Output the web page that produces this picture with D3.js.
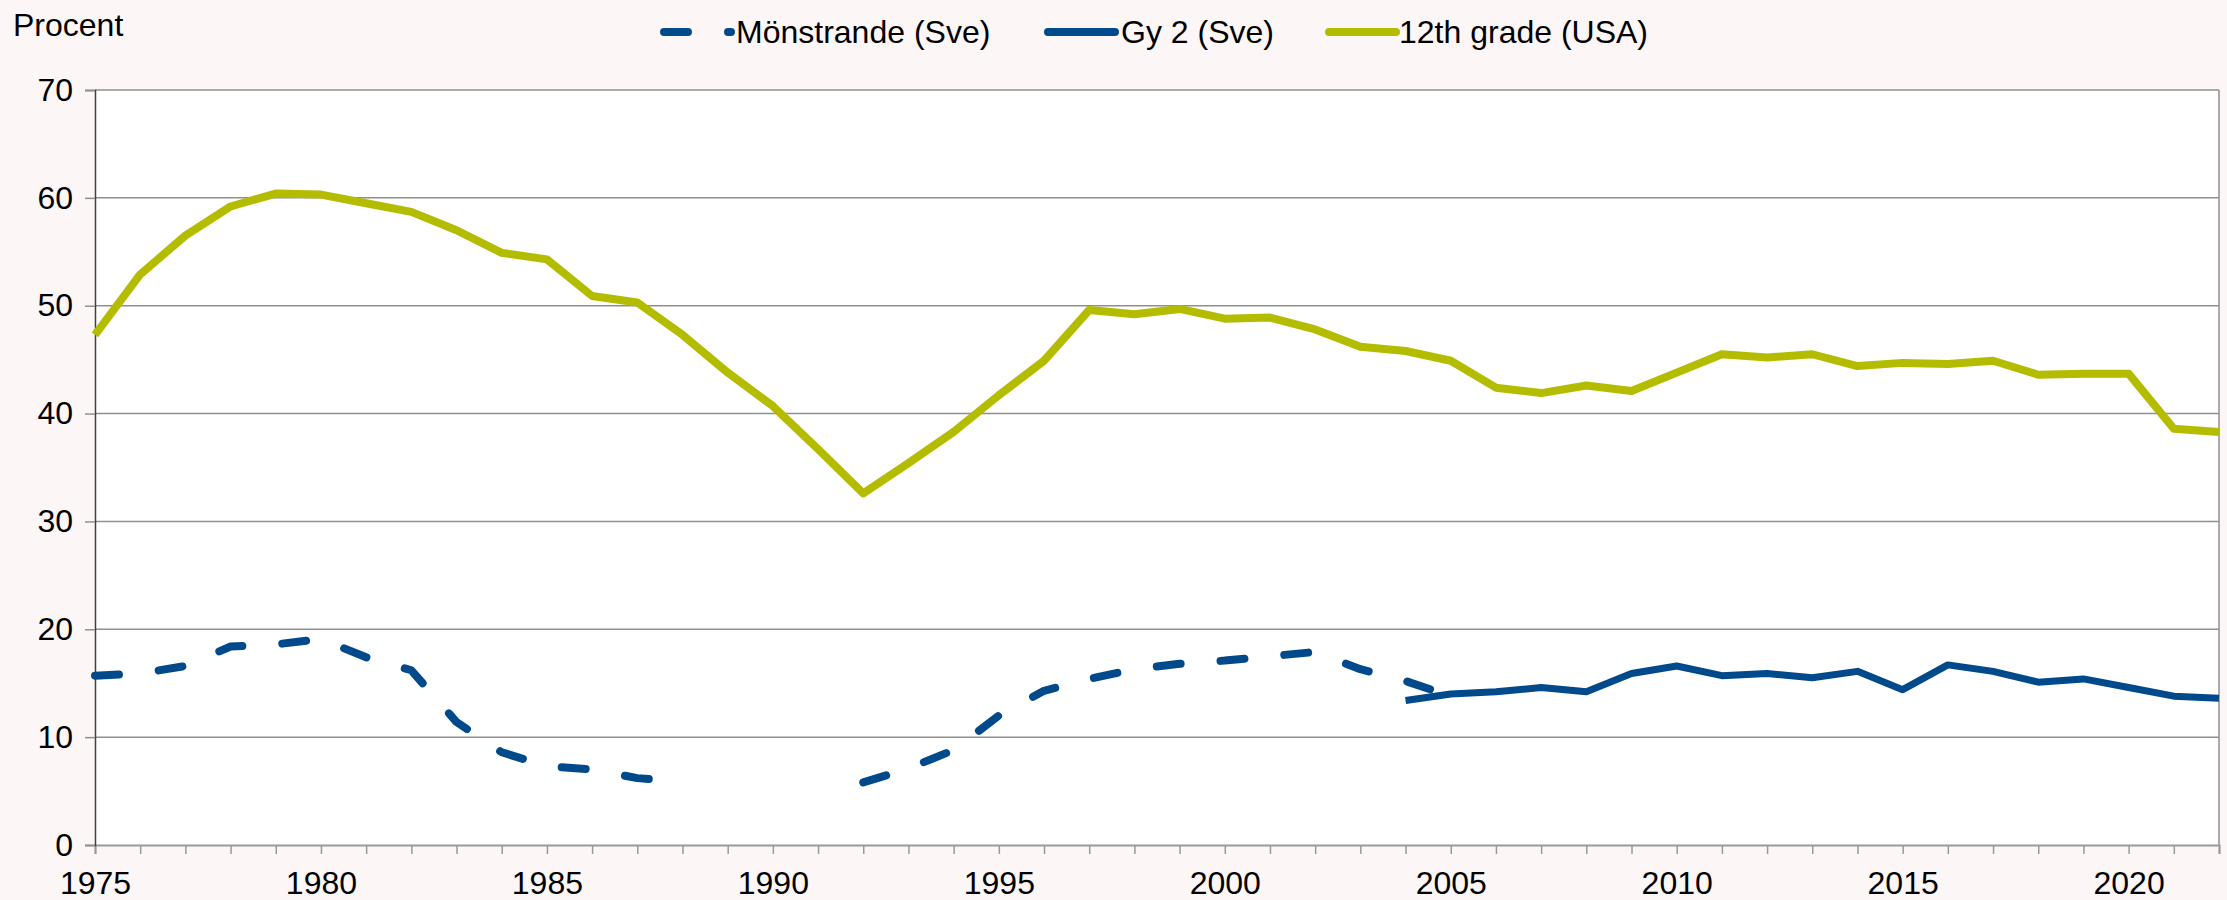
<!DOCTYPE html>
<html>
<head>
<meta charset="utf-8">
<script src="https://cdn.jsdelivr.net/npm/d3@7"></script>
<style>
  html, body { margin: 0; padding: 0; background: #FCF6F6; }
  svg { display: block; font-family: "Liberation Sans", Arial, sans-serif; }
</style>
</head>
<body>
<svg id="chart" width="2227" height="900"></svg>
<script>
// ---- Data ----
const years = d3.range(1975, 2023);
const xTickLabels = [1975, 1980, 1985, 1990, 1995, 2000, 2005, 2010, 2015, 2020];
const yTicks = [0, 10, 20, 30, 40, 50, 60, 70];
const seriesNames = ["Mönstrande (Sve)", "Gy 2 (Sve)", "12th grade (USA)"];

// Mönstrande (Sve), 1975–2005, gap 1989–1991
const monstrande = [15.7, 15.9, 16.6, 18.4, 18.6, 19.1, 17.4, 16.2, 11.4, 8.6,
  7.3, 7.0, 6.2, 5.9, null, null, null, 5.8, 7.1, 8.8,
  12.0, 14.3, 15.4, 16.3, 16.8, 17.1, 17.5, 17.9, 16.3, 15.2,
  13.8];
// Gy 2 (Sve), 2004–2022
const gy2Years = d3.range(2004, 2023);
const gy2 = [13.4, 14.0, 14.2, 14.6, 14.2, 15.9, 16.6, 15.7, 15.9, 15.5,
  16.1, 14.4, 16.7, 16.1, 15.1, 15.4, 14.6, 13.8, 13.6];
// 12th grade (USA), 1975–2022
const usa = [47.3, 52.9, 56.5, 59.2, 60.4, 60.3, 59.5, 58.7, 57.0, 54.9,
  54.3, 50.9, 50.3, 47.3, 43.8, 40.7, 36.7, 32.6, 35.4, 38.3,
  41.7, 44.9, 49.6, 49.2, 49.7, 48.8, 48.9, 47.8, 46.2, 45.8,
  44.9, 42.4, 41.9, 42.6, 42.1, 43.8, 45.5, 45.2, 45.5, 44.4,
  44.7, 44.6, 44.9, 43.6, 43.7, 43.7, 38.6, 38.3];

const blue = "#00498A";
const green = "#B4BC00";
const fontSize = 32;

// ---- Layout ----
const svg = d3.select("#chart");
const pLeft = 95, pRight = 2219, pTop = 90, pBottom = 845;

const x = d3.scaleLinear().domain([1975, 2022]).range([pLeft, pRight]);
const y = d3.scaleLinear().domain([0, 70]).range([pBottom, pTop]);

// plot area
svg.append("rect").attr("x", pLeft).attr("y", pTop)
  .attr("width", pRight - pLeft).attr("height", pBottom - pTop).attr("fill", "#ffffff");

// gridlines
svg.append("g").selectAll("line").data(yTicks.filter(d => d > 0)).join("line")
  .attr("x1", pLeft).attr("x2", pRight)
  .attr("y1", d => y(d)).attr("y2", d => y(d))
  .attr("stroke", "#8f8f8f").attr("stroke-width", 1.5);

// right border
svg.append("line").attr("x1", pRight).attr("x2", pRight).attr("y1", pTop).attr("y2", pBottom)
  .attr("stroke", "#8f8f8f").attr("stroke-width", 1.5);

// x axis
const xAxis = d3.axisBottom(x).tickValues(years).tickSize(9).tickPadding(17)
  .tickFormat(d => xTickLabels.includes(d) ? String(d) : "");
const gx = svg.append("g").attr("transform", `translate(0,${pBottom})`).call(xAxis);
gx.select(".domain").attr("stroke", "#999999").attr("stroke-width", 2);
gx.selectAll(".tick line").attr("stroke", "#999999").attr("stroke-width", 1.5);
gx.selectAll(".tick text").attr("font-size", fontSize).attr("fill", "#000")
  .attr("font-family", "Liberation Sans, Arial, sans-serif");

// y axis
const yAxis = d3.axisLeft(y).tickValues(yTicks).tickSize(10).tickPadding(12)
  .tickFormat(d3.format("d"));
const gy = svg.append("g").attr("transform", `translate(${pLeft},0)`).call(yAxis);
gy.select(".domain").attr("stroke", "#404040").attr("stroke-width", 1.5);
gy.selectAll(".tick line").attr("stroke", "#8f8f8f").attr("stroke-width", 1.5);
gy.selectAll(".tick text").attr("font-size", fontSize).attr("fill", "#000")
  .attr("font-family", "Liberation Sans, Arial, sans-serif");

// ---- Lines ----
const line = d3.line().defined(d => d[1] != null).x(d => x(d[0])).y(d => y(d[1]));

svg.append("path")
  .datum(monstrande.map((v, i) => [1975 + i, v]))
  .attr("d", line).attr("fill", "none").attr("stroke", blue)
  .attr("stroke-width", 8).attr("stroke-linecap", "round").attr("stroke-linejoin", "round")
  .attr("stroke-dasharray", "24,40");

svg.append("path")
  .datum(gy2.map((v, i) => [gy2Years[i], v]))
  .attr("d", line).attr("fill", "none").attr("stroke", blue)
  .attr("stroke-width", 7).attr("stroke-linejoin", "round");

svg.append("path")
  .datum(usa.map((v, i) => [years[i], v]))
  .attr("d", line).attr("fill", "none").attr("stroke", green)
  .attr("stroke-width", 8).attr("stroke-linejoin", "round");

// ---- Y title ----
svg.append("text").attr("x", 13).attr("y", 36).attr("font-size", fontSize)
  .attr("fill", "#000").text("Procent");

// ---- Legend ----
const legendItems = [
  { name: seriesNames[0], x0: 664, x1: 731, tx: 736, color: blue, dash: "24,40" },
  { name: seriesNames[1], x0: 1048, x1: 1115, tx: 1121, color: blue, dash: null },
  { name: seriesNames[2], x0: 1329, x1: 1396, tx: 1399, color: green, dash: null }
];
const lg = svg.append("g").selectAll("g").data(legendItems).join("g");
lg.append("line").attr("x1", d => d.x0).attr("x2", d => d.x1)
  .attr("y1", 32).attr("y2", 32).attr("stroke", d => d.color)
  .attr("stroke-width", 8).attr("stroke-linecap", "round")
  .attr("stroke-dasharray", d => d.dash);
lg.append("text").attr("x", d => d.tx).attr("y", 43).attr("font-size", fontSize)
  .attr("fill", "#000").text(d => d.name);
</script>
</body>
</html>
